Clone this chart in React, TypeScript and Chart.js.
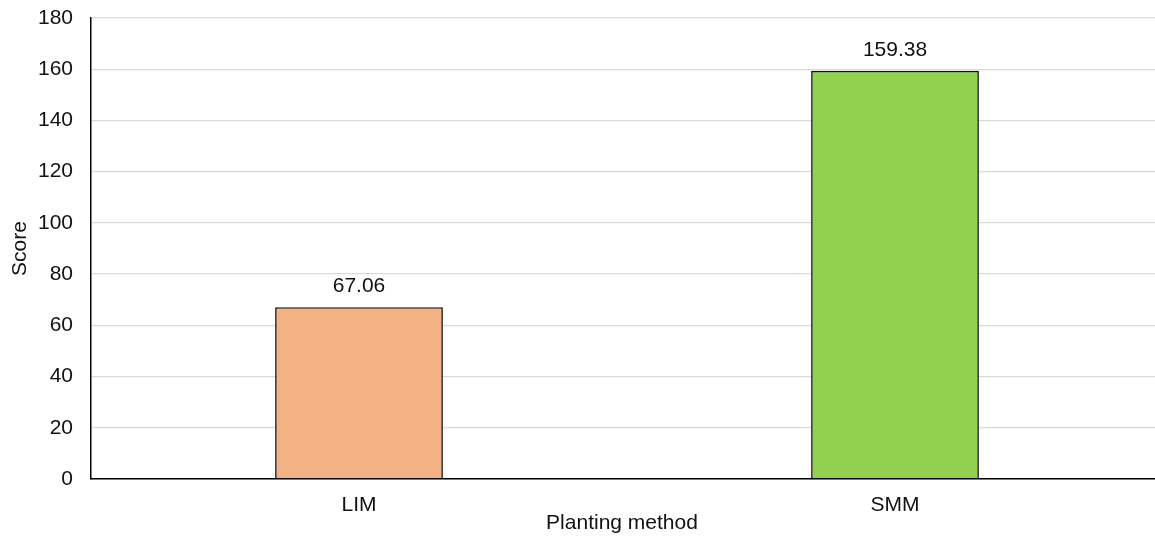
import React, { useEffect, useRef } from "react";
import { Chart, registerables } from "chart.js";

Chart.register(...registerables);

const categories = ["LIM", "SMM"];
const scores = [67.06, 159.38];
const barColors = ["#F4B183", "#92D050"];
const yTicks = [0, 20, 40, 60, 80, 100, 120, 140, 160, 180];
const xTitle = "Planting method";
const yTitle = "Score";

const FONT = "'Liberation Sans', Arial, sans-serif";
const FS = 21;

const overlay = {
  id: "overlay",
  afterDatasetsDraw(chart: any) {
    const ctx = chart.ctx;
    const meta = chart.getDatasetMeta(0);
    const area = chart.chartArea;
    ctx.save();
    ctx.font = `${FS}px ${FONT}`;
    ctx.fillStyle = "#111";
    ctx.textAlign = "center";
    ctx.textBaseline = "alphabetic";
    meta.data.forEach((bar: any, i: number) => {
      ctx.fillText(scores[i].toFixed(2), bar.x, bar.y - 15);
    });
    ctx.textBaseline = "middle";
    ctx.fillText(xTitle, 622, area.bottom + 44);
    ctx.translate(20, (area.top + area.bottom) / 2);
    ctx.rotate(-Math.PI / 2);
    ctx.fillText(yTitle, 0, 0);
    ctx.restore();
  },
};

export default function App() {
  const ref = useRef<HTMLCanvasElement>(null);
  useEffect(() => {
    document.body.style.margin = "0";
    const chart = new Chart(ref.current!, {
      type: "bar",
      data: {
        labels: categories,
        datasets: [
          {
            data: scores,
            backgroundColor: barColors,
            borderColor: "#111",
            borderWidth: 1.6,
            barPercentage: 0.313,
            categoryPercentage: 1,
          },
        ],
      },
      options: {
        animation: false,
        responsive: false,
        devicePixelRatio: 1,
        layout: { padding: { left: 0, top: 18, right: 12, bottom: 0 } },
        plugins: { legend: { display: false }, tooltip: { enabled: false } },
        scales: {
          x: {
            grid: { display: false, drawTicks: false },
            border: { color: "#000", width: 1.5 },
            ticks: { color: "#111", font: { family: FONT, size: FS }, padding: 14 },
            afterFit: (axis: any) => {
              axis.height = 537 - 479;
              axis.paddingLeft = 0;
              axis.paddingRight = 0;
            },
          },
          y: {
            min: 0,
            max: 180,
            afterBuildTicks: (axis: any) => {
              axis.ticks = yTicks.map((v) => ({ value: v }));
            },
            grid: { color: "#D9D9D9", lineWidth: 1.3, drawTicks: false },
            border: { color: "#000", width: 1.5 },
            ticks: { color: "#111", font: { family: FONT, size: FS }, padding: 18 },
            afterFit: (axis: any) => {
              axis.width = 91;
              axis.paddingTop = 0;
              axis.paddingBottom = 0;
            },
          },
        },
      },
      plugins: [overlay],
    });
    return () => chart.destroy();
  }, []);
  return (
    <div style={{ position: "absolute", left: 0, top: 0, width: 1155, height: 537, overflow: "hidden", background: "#fff" }}>
      <canvas ref={ref} width={1175} height={537} style={{ display: "block" }} />
    </div>
  );
}
